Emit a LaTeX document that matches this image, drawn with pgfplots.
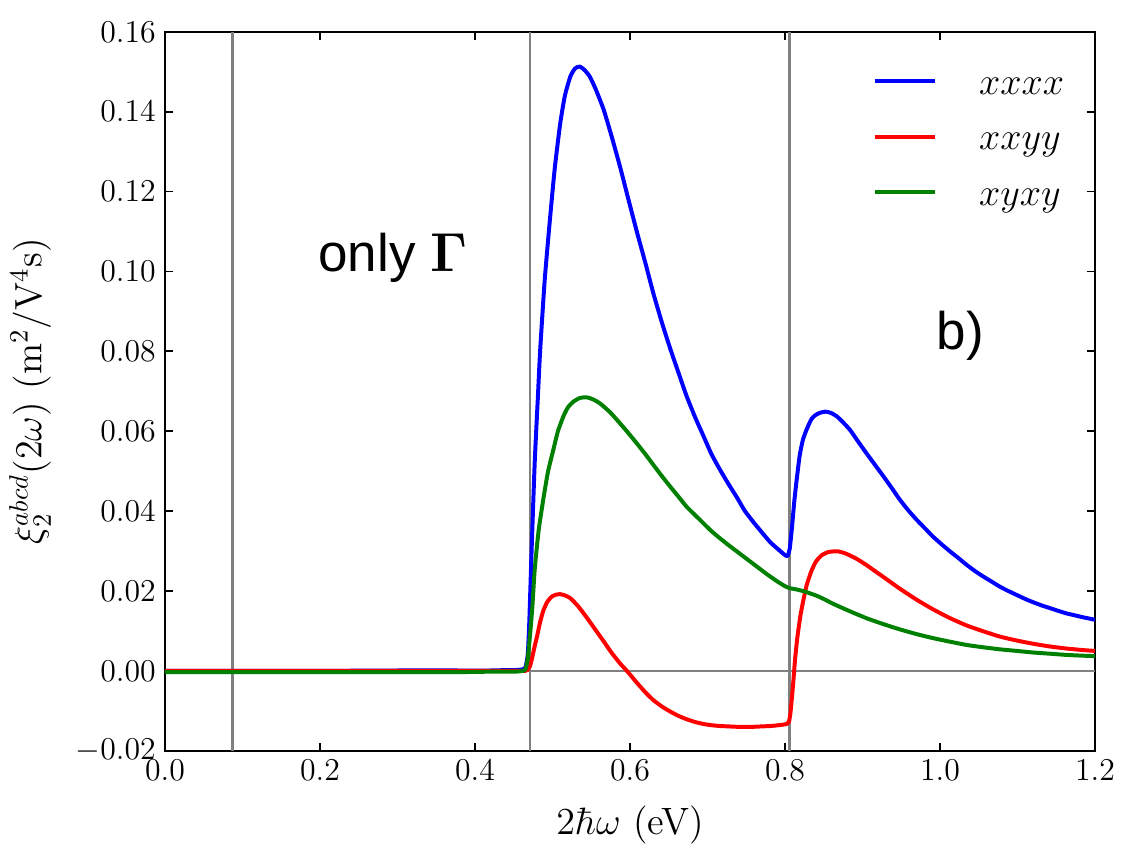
\documentclass[border=0pt]{standalone}
\usepackage{pgfplots}
\pgfplotsset{compat=1.18}
\usepackage{amsmath}
\usepackage[no-math]{fontspec}
\newfontfamily\arialfont{Liberation Sans}

\definecolor{mplgreen}{RGB}{0,128,0}

\begin{document}
\begin{tikzpicture}
\begin{axis}[
  scale only axis,
  width=351.2pt, height=271.5pt,
  xmin=0, xmax=1.2, ymin=-0.02, ymax=0.16,
  xtick={0,0.2,...,1.2},
  ytick={-0.02,0,0.02,0.04,0.06,0.08,0.10,0.12,0.14,0.16},
  scaled y ticks=false, scaled x ticks=false,
  xticklabel style={/pgf/number format/.cd, fixed, fixed zerofill, precision=1},
  yticklabel style={/pgf/number format/.cd, fixed, fixed zerofill, precision=2},
  tick label style={font=\fontsize{12}{14}\selectfont},
  tick align=inside,
  major tick length=3pt,
  tick style={black, line width=0.7pt},
  axis line style={line width=0.9pt},
  label style={font=\fontsize{14.4}{17}\selectfont},
  xlabel={$2\hbar\omega$ (eV)},
  ylabel={$\xi_2^{abcd}(2\omega)$ $(\mathrm{m}^2/\mathrm{V}^4\mathrm{s})$},
  xlabel style={at={(axis description cs:0.5,-0.103)}, anchor=center},
  ylabel style={at={(axis description cs:-0.145,0.5)}, anchor=center},
  legend style={draw=none, fill=none, inner sep=0pt, outer sep=0pt,
    at={(axis cs:0.9135,0.151)}, anchor=north west,
    row sep=8pt,
    font=\fontsize{14.4}{17}\selectfont,
    nodes={inner sep=0pt, text height=10pt, text depth=3pt},
    /tikz/every odd column/.append style={column sep=15.9pt}},
  legend cell align=left,
  legend image code/.code={\draw[#1, line width=1.5pt] (0pt,1.5pt) -- (22.7pt,1.5pt);},
  every axis plot post/.append style={line join=round},
]

% reference lines
\addplot[gray, line width=1pt, forget plot] coordinates {(0.087,-0.02) (0.087,0.16)};
\addplot[gray, line width=1.1pt, forget plot] coordinates {(0.471,-0.02) (0.471,0.16)};
\addplot[gray, line width=1pt, forget plot] coordinates {(0.806,-0.02) (0.806,0.16)};
\addplot[gray, line width=0.6pt, forget plot] coordinates {(0,0) (1.2,0)};

% xxxx
\addplot[blue, line width=1.5pt, smooth, tension=0.35] table {
0.000 0.0000
0.100 0.0000
0.200 0.0000
0.300 0.0001
0.380 0.0001
0.420 0.0001
0.440 0.0002
0.452 0.0002
0.458 0.0003
0.462 0.0004
0.465 0.0008
0.468 0.004
0.470 0.012
0.473 0.030
0.477 0.052
0.481 0.068
0.484 0.080
0.490 0.098
0.497 0.1137
0.503 0.126
0.510 0.1371
0.516 0.1440
0.523 0.1488
0.529 0.1508
0.535 0.1513
0.541 0.1505
0.548 0.1488
0.556 0.1455
0.566 0.1405
0.576 0.1340
0.587 0.1263
0.598 0.1180
0.609 0.1098
0.620 0.1020
0.630 0.0946
0.641 0.0873
0.652 0.0806
0.663 0.0744
0.673 0.0688
0.684 0.0635
0.695 0.0587
0.705 0.0543
0.716 0.0504
0.727 0.0468
0.738 0.0434
0.748 0.0401
0.759 0.0373
0.770 0.0347
0.781 0.0322
0.792 0.0303
0.798 0.0293
0.803 0.0287
0.806 0.0305
0.809 0.0360
0.812 0.0425
0.815 0.0478
0.819 0.0540
0.823 0.0578
0.828 0.0605
0.834 0.0630
0.839 0.0640
0.845 0.0646
0.852 0.0649
0.859 0.0646
0.867 0.0637
0.875 0.0622
0.884 0.0603
0.894 0.0575
0.905 0.0545
0.916 0.0516
0.927 0.0487
0.938 0.0457
0.948 0.0429
0.959 0.0402
0.970 0.0378
0.981 0.0356
0.991 0.0336
1.002 0.0317
1.013 0.0299
1.024 0.0282
1.034 0.0266
1.045 0.0250
1.056 0.0236
1.067 0.0223
1.077 0.0211
1.088 0.0200
1.099 0.0190
1.110 0.0180
1.120 0.0172
1.131 0.0164
1.142 0.0157
1.153 0.0150
1.163 0.0144
1.174 0.0139
1.185 0.0134
1.200 0.0128
};
\addlegendentry{$xxxx$}

% xxyy
\addplot[red, line width=1.5pt, smooth, tension=0.35] table {
0.000 0.0000
0.100 0.0000
0.200 0.0000
0.300 0.0000
0.380 0.0000
0.420 0.0000
0.440 0.0000
0.452 0.0000
0.458 0.0000
0.462 0.0000
0.465 0.0000
0.468 0.0003
0.471 0.0012
0.474 0.0035
0.477 0.0062
0.480 0.0086
0.484 0.0122
0.488 0.0150
0.493 0.0172
0.499 0.0186
0.505 0.0191
0.510 0.0192
0.516 0.0189
0.523 0.0182
0.533 0.0162
0.544 0.0134
0.555 0.0104
0.566 0.0074
0.576 0.0046
0.587 0.0019
0.596 0.0000
0.609 -0.0030
0.620 -0.0054
0.630 -0.0073
0.641 -0.0089
0.652 -0.0102
0.663 -0.0113
0.673 -0.0121
0.684 -0.0128
0.695 -0.0133
0.705 -0.0136
0.716 -0.0138
0.727 -0.0139
0.738 -0.0140
0.748 -0.0140
0.759 -0.0140
0.770 -0.0139
0.781 -0.0138
0.792 -0.0136
0.802 -0.0133
0.805 -0.0128
0.807 -0.0105
0.809 -0.0065
0.811 -0.0020
0.813 0.0030
0.816 0.0085
0.820 0.0140
0.824 0.0180
0.828 0.0215
0.834 0.0250
0.840 0.0274
0.847 0.0289
0.855 0.0297
0.862 0.0299
0.869 0.0299
0.878 0.0294
0.892 0.0281
0.905 0.0265
0.916 0.0250
0.927 0.0235
0.948 0.0206
0.970 0.0178
0.991 0.0154
1.013 0.0132
1.034 0.0114
1.056 0.0099
1.077 0.0086
1.099 0.0076
1.120 0.0068
1.142 0.0061
1.163 0.0056
1.185 0.0052
1.200 0.0050
};
\addlegendentry{$xxyy$}

% xyxy
\addplot[mplgreen, line width=1.5pt, smooth, tension=0.35] table {
0.000 -0.0003
0.100 -0.0003
0.200 -0.0003
0.300 -0.0003
0.380 -0.0003
0.420 -0.0002
0.440 -0.0002
0.452 -0.0002
0.458 -0.0001
0.462 0.0000
0.465 0.0003
0.468 0.003
0.471 0.009
0.474 0.016
0.477 0.0253
0.482 0.035
0.488 0.0428
0.494 0.0497
0.501 0.0553
0.507 0.0600
0.514 0.0637
0.520 0.0660
0.527 0.0674
0.535 0.0683
0.544 0.0685
0.552 0.0680
0.561 0.0670
0.574 0.0648
0.587 0.0620
0.598 0.0595
0.609 0.0569
0.620 0.0542
0.630 0.0516
0.641 0.0488
0.652 0.0461
0.663 0.0435
0.673 0.0411
0.684 0.0390
0.695 0.0369
0.705 0.0350
0.716 0.0332
0.727 0.0315
0.742 0.0293
0.759 0.0268
0.776 0.0243
0.790 0.0224
0.800 0.0212
0.806 0.0207
0.812 0.0205
0.819 0.0202
0.828 0.0197
0.841 0.0188
0.852 0.0178
0.862 0.0168
0.884 0.0149
0.905 0.0132
0.927 0.0117
0.948 0.0104
0.970 0.0092
0.991 0.0082
1.013 0.0073
1.034 0.0065
1.056 0.0059
1.077 0.0054
1.099 0.0050
1.120 0.0046
1.142 0.0043
1.163 0.0040
1.185 0.0038
1.200 0.0037
};
\addlegendentry{$xyxy$}

\node[font=\arialfont\fontsize{20}{24}\selectfont, anchor=center] at (axis cs:0.294,0.1034) {only $\mathbf{\Gamma}$};
\node[font=\arialfont\fontsize{20}{24}\selectfont, anchor=center] at (axis cs:1.026,0.0839) {b)};
\end{axis}
% page frame around the axis
\path (current axis.south west) ++(-62.3pt,-41.2pt) rectangle ++(426.7pt,324.7pt);
\end{tikzpicture}
\end{document}
